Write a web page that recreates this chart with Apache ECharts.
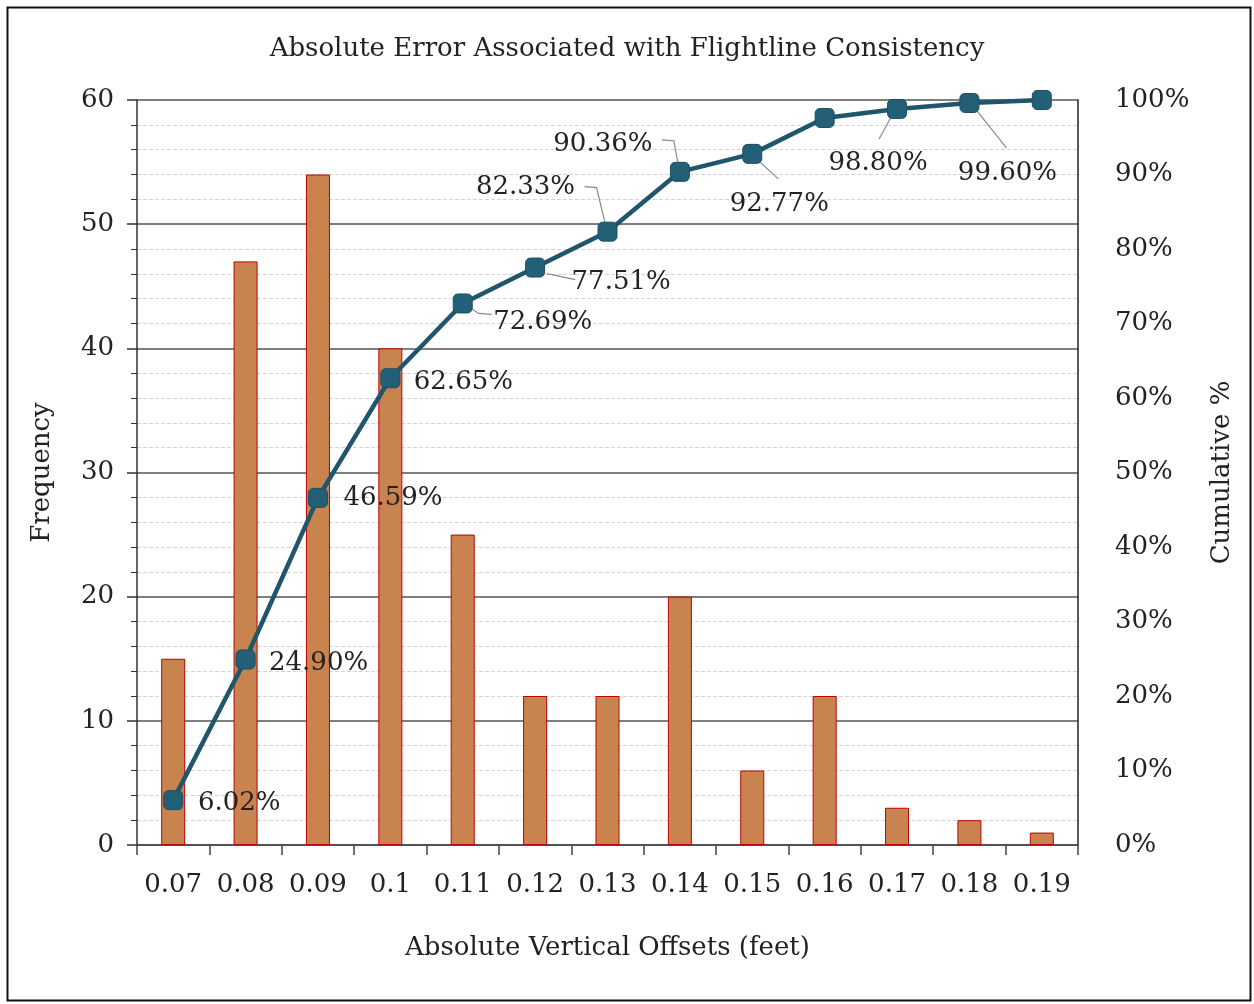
<!DOCTYPE html>
<html><head><meta charset="utf-8">
<script src="https://cdn.jsdelivr.net/npm/echarts@6/dist/echarts.min.js"></script>
<style>html,body{margin:0;padding:0;background:#fff}#c{width:1254px;height:1004px}</style>
</head><body><div id="c"></div>
<script>
const titleText = 'Absolute Error Associated with Flightline Consistency';
const categories = ['0.07','0.08','0.09','0.1','0.11','0.12','0.13','0.14','0.15','0.16','0.17','0.18','0.19'];
const frequency = [15, 47, 54, 40, 25, 12, 12, 20, 6, 12, 3, 2, 1];
const cumulativePct = [6.02, 24.90, 46.59, 62.65, 72.69, 77.51, 82.33, 90.36, 92.77, 97.59, 98.80, 99.60, 100];
const shownLabels = [true, true, true, true, true, true, true, true, true, false, true, true, false];

// layout constants (pixel offsets of labels / leader lines relative to each marker)
const labelDx = [66, 73, 75, 73, 80, 86, -82, -77, 27, 0, -19, 38, 0];
const labelDy = [3, 4, 0, 4, 19, 15, -44, -28, 50, 0, 54, 70, 0];
const leaderPaths = {
  4: [[4, 2], [16, 10], [29, 11]],
  5: [[12, 6], [40, 12]],
  6: [[-1, -3], [-11, -44], [-23, -45]],
  7: [[-1, -3], [-6, -31], [-18, -32]],
  8: [[1, 2], [26, 25]],
  10: [[-1, -1], [-18, 30]],
  11: [[2, 1], [37, 45]]
};

const FONT = 'DejaVu Serif';
const FS = 26;
const chart = echarts.init(document.getElementById('c'));
const lineData = cumulativePct.map((v, i) => ({ value: v, label: { show: shownLabels[i] } }));
const leaderData = Object.keys(leaderPaths).map(k => [Number(k), cumulativePct[Number(k)]]);

chart.setOption({
  animation: false,
  textStyle: { fontFamily: FONT },
  title: {
    text: titleText, left: 'center', top: 31,
    textStyle: { fontFamily: FONT, fontSize: FS, fontWeight: 'normal', color: '#222' }
  },
  graphic: [{
    type: 'rect', left: 5, top: 5, silent: true,
    shape: { width: 1243, height: 993 },
    style: { fill: 'none', stroke: '#111', lineWidth: 2 }
  }],
  grid: { left: 137, right: 176, top: 100, bottom: 159 },
  xAxis: {
    type: 'category', data: categories,
    name: 'Absolute Vertical Offsets (feet)', nameLocation: 'middle', nameGap: 90,
    nameTextStyle: { fontFamily: FONT, fontSize: FS, color: '#222' },
    axisLine: { lineStyle: { color: '#444', width: 1.5 } },
    axisTick: { show: true, interval: 0, length: 10, lineStyle: { color: '#444', width: 1.5 } },
    axisLabel: { interval: 0, fontFamily: FONT, fontSize: FS, color: '#222', margin: 27 }
  },
  yAxis: [{
    type: 'value', min: 0, max: 60, interval: 10,
    name: 'Frequency', nameLocation: 'middle', nameRotate: 90, nameGap: 82,
    nameTextStyle: { fontFamily: FONT, fontSize: FS, color: '#222' },
    axisLine: { show: true, lineStyle: { color: '#333', width: 1.5 } },
    axisTick: { show: true, length: 10, lineStyle: { color: '#333', width: 1.5 } },
    minorTick: { show: true, splitNumber: 5, length: 6, lineStyle: { color: '#333' } },
    axisLabel: { fontFamily: FONT, fontSize: FS, color: '#222', margin: 23 },
    splitLine: { show: true, lineStyle: { color: '#555', width: 1.5 } },
    minorSplitLine: { show: true, lineStyle: { color: '#d4d4d4', type: 'dashed', width: 1 } }
  }, {
    type: 'value', min: 0, max: 100, interval: 10,
    name: 'Cumulative %', nameLocation: 'middle', nameRotate: 90, nameGap: 131,
    nameTextStyle: { fontFamily: FONT, fontSize: FS, color: '#222' },
    axisLine: { show: true, lineStyle: { color: '#222', width: 1.5 } },
    axisTick: { show: false },
    axisLabel: { fontFamily: FONT, fontSize: FS, color: '#222', margin: 37, formatter: '{value}%' },
    splitLine: { show: false }
  }],
  series: [{
    type: 'bar', data: frequency, yAxisIndex: 0, barWidth: 24,
    itemStyle: { color: '#c8834f', borderColor: '#c00000', borderWidth: 1 }
  }, {
    type: 'custom', yAxisIndex: 1, data: leaderData, silent: true, z: 2,
    renderItem: (params, api) => {
      const idx = api.value(0);
      const c = api.coord([idx, api.value(1)]);
      const pts = leaderPaths[idx].map(o => [c[0] + o[0], c[1] + o[1]]);
      return { type: 'polyline', shape: { points: pts }, style: { stroke: '#8a8a8a', lineWidth: 1.2, fill: null } };
    }
  }, {
    type: 'line', data: lineData, yAxisIndex: 1, z: 3,
    symbol: 'roundRect', symbolSize: 19,
    lineStyle: { color: '#1f566c', width: 4.5 },
    itemStyle: { color: '#245f78', borderColor: '#1c4f63', borderWidth: 1 },
    label: {
      show: true, position: 'inside', fontFamily: FONT, fontSize: FS, color: '#222',
      formatter: p => p.value.toFixed(2) + '%'
    },
    labelLayout: p => ({ dx: labelDx[p.dataIndex], dy: labelDy[p.dataIndex] })
  }]
});
</script></body></html>
